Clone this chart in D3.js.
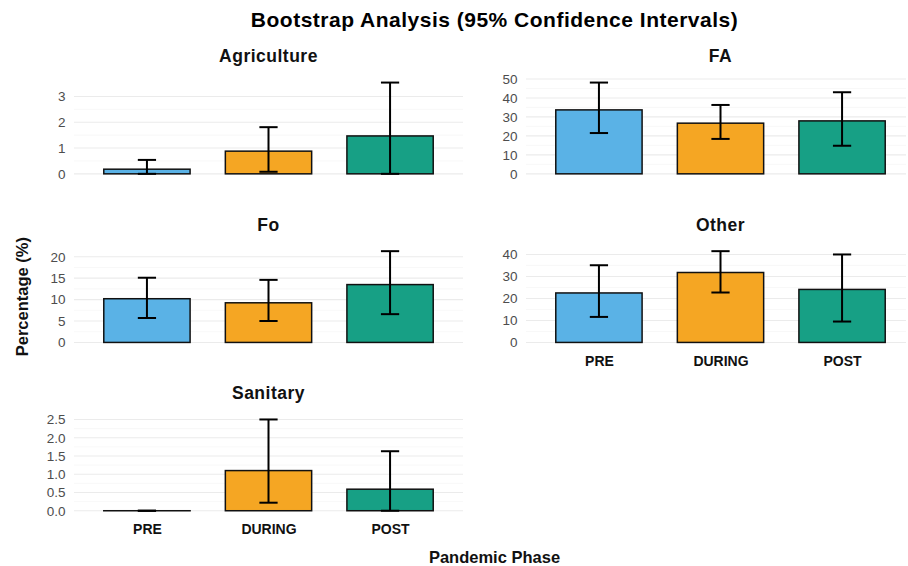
<!DOCTYPE html>
<html>
<head>
<meta charset="utf-8">
<script src="https://cdn.jsdelivr.net/npm/d3@7"></script>
<style>
  html, body { margin: 0; padding: 0; background: #ffffff; }
  svg { display: block; font-family: "Liberation Sans", Arial, Helvetica, sans-serif; }
</style>
</head>
<body>
<svg id="chart" width="908" height="566"></svg>
<script>
// ---- data ----
const phases = ["PRE", "DURING", "POST"];
const facets = ["Agriculture", "FA", "Fo", "Other", "Sanitary"];
const phaseColors = ["#5AB2E6", "#F5A623", "#17A085"];

const agricultureMean  = [0.18, 0.88, 1.47];
const agricultureLower = [0.00, 0.08, 0.00];
const agricultureUpper = [0.54, 1.81, 3.54];

const faMean  = [33.7, 26.7, 27.9];
const faLower = [21.5, 18.4, 14.8];
const faUpper = [48.1, 36.3, 43.0];

const foMean  = [10.2, 9.25, 13.5];
const foLower = [5.7, 5.0, 6.6];
const foUpper = [15.1, 14.6, 21.3];

const otherMean  = [22.5, 31.8, 24.1];
const otherLower = [11.6, 22.7, 9.5];
const otherUpper = [35.1, 41.5, 40.0];

const sanitaryMean  = [0.0, 1.10, 0.59];
const sanitaryLower = [0.0, 0.22, 0.00];
const sanitaryUpper = [0.0, 2.50, 1.63];

const agricultureTicks = [0, 1, 2, 3];
const faTicks = [0, 10, 20, 30, 40, 50];
const foTicks = [0, 5, 10, 15, 20];
const otherTicks = [0, 10, 20, 30, 40];
const sanitaryTicks = [0.0, 0.5, 1.0, 1.5, 2.0, 2.5];
const sanitaryTickLabels = ["0.0", "0.5", "1.0", "1.5", "2.0", "2.5"];

const chartTitle = "Bootstrap Analysis (95% Confidence Intervals)";
const xTitle = "Pandemic Phase";
const yTitle = "Percentage (%)";

// ---- assemble ----
const panels = [
  {name: facets[0], mean: agricultureMean, lower: agricultureLower, upper: agricultureUpper, ticks: agricultureTicks, fmt: d => String(d)},
  {name: facets[1], mean: faMean, lower: faLower, upper: faUpper, ticks: faTicks, fmt: d => String(d)},
  {name: facets[2], mean: foMean, lower: foLower, upper: foUpper, ticks: foTicks, fmt: d => String(d)},
  {name: facets[3], mean: otherMean, lower: otherLower, upper: otherUpper, ticks: otherTicks, fmt: d => String(d)},
  {name: facets[4], mean: sanitaryMean, lower: sanitaryLower, upper: sanitaryUpper, ticks: sanitaryTicks, fmt: (d, i) => sanitaryTickLabels[i]}
];

// ---- layout ----
const colX = [[74, 463], [526, 915]];
const rowTop = [78, 246.6, 414.9];
const panelH = 100.4;

const svg = d3.select("#chart");

svg.append("text")
  .attr("x", 494.5).attr("y", 27)
  .attr("text-anchor", "middle")
  .attr("font-size", 21).attr("font-weight", "bold")
  .attr("letter-spacing", 0.5)
  .attr("fill", "#000")
  .text(chartTitle);

panels.forEach((p, idx) => {
  const col = idx % 2, row = Math.floor(idx / 2);
  const [x0, x1] = colX[col];
  const top = rowTop[row], bottom = top + panelH;
  const maxV = d3.max(p.upper.concat(p.mean));
  const y = d3.scaleLinear().domain([-0.05 * maxV, 1.05 * maxV]).range([bottom, top]);
  const x = d3.scalePoint().domain(phases).range([x0, x1]).padding(0.6);
  const step = x.step();
  const barW = step * 0.71;
  const capW = step * 0.15;

  const g = svg.append("g");

  // gridlines (minor then major)
  const minor = d3.pairs(p.ticks).map(([a, b]) => (a + b) / 2);
  g.selectAll(".minor").data(minor).join("line")
    .attr("x1", x0).attr("x2", Math.min(x1, 906))
    .attr("y1", d => y(d)).attr("y2", d => y(d))
    .attr("stroke", "#f4f4f4").attr("stroke-width", 0.6);
  g.selectAll(".major").data(p.ticks).join("line")
    .attr("x1", x0).attr("x2", Math.min(x1, 906))
    .attr("y1", d => y(d)).attr("y2", d => y(d))
    .attr("stroke", "#ebebeb").attr("stroke-width", 1.1);

  // y axis labels
  const yAxis = d3.axisLeft(y).tickValues(p.ticks).tickSize(0).tickPadding(8.5)
    .tickFormat((d, i) => p.fmt(d, i));
  const ag = g.append("g").attr("transform", `translate(${x0},0)`).call(yAxis);
  ag.select(".domain").remove();
  ag.selectAll("text").attr("font-size", 13.5).attr("fill", "#4d4d4d")
    .attr("font-family", "Liberation Sans, Arial, sans-serif");

  // bars
  g.selectAll(".bar").data(phases).join("rect")
    .attr("x", d => x(d) - barW / 2)
    .attr("width", barW)
    .attr("y", (d, i) => y(p.mean[i]))
    .attr("height", (d, i) => Math.max(y(0) - y(p.mean[i]), 0.01))
    .attr("fill", (d, i) => phaseColors[i])
    .attr("stroke", "#111").attr("stroke-width", 1.5);

  // error bars
  const eb = g.selectAll(".eb").data(phases).join("g");
  eb.append("line")
    .attr("x1", d => x(d)).attr("x2", d => x(d))
    .attr("y1", (d, i) => y(p.lower[i])).attr("y2", (d, i) => y(p.upper[i]))
    .attr("stroke", "#000").attr("stroke-width", 2);
  eb.append("line")
    .attr("x1", d => x(d) - capW / 2).attr("x2", d => x(d) + capW / 2)
    .attr("y1", (d, i) => y(p.upper[i])).attr("y2", (d, i) => y(p.upper[i]))
    .attr("stroke", "#000").attr("stroke-width", 2);
  eb.append("line")
    .attr("x1", d => x(d) - capW / 2).attr("x2", d => x(d) + capW / 2)
    .attr("y1", (d, i) => y(p.lower[i])).attr("y2", (d, i) => y(p.lower[i]))
    .attr("stroke", "#000").attr("stroke-width", 2);

  // facet title
  g.append("text")
    .attr("x", (x0 + x1) / 2).attr("y", top - 16)
    .attr("text-anchor", "middle")
    .attr("font-size", 17.5).attr("font-weight", "bold")
    .attr("letter-spacing", 0.5)
    .attr("fill", "#111")
    .text(p.name);

  // x labels on bottom panel of each column
  const showX = (col === 0 && row === 2) || (col === 1 && row === 1);
  if (showX) {
    const xAxis = d3.axisBottom(x).tickSize(0).tickPadding(9);
    const xg = g.append("g").attr("transform", `translate(0,${bottom})`).call(xAxis);
    xg.select(".domain").remove();
    xg.selectAll("text").attr("font-size", 14).attr("font-weight", "bold")
      .attr("fill", "#111").attr("font-family", "Liberation Sans, Arial, sans-serif");
  }
});

// axis titles
svg.append("text")
  .attr("x", 494.5).attr("y", 563)
  .attr("text-anchor", "middle")
  .attr("font-size", 16.5).attr("font-weight", "bold")
  .attr("fill", "#111")
  .text(xTitle);

svg.append("text")
  .attr("transform", `translate(28,${(rowTop[0] + rowTop[2] + panelH) / 2}) rotate(-90)`)
  .attr("text-anchor", "middle")
  .attr("font-size", 16.5).attr("font-weight", "bold")
  .attr("fill", "#111")
  .text(yTitle);
</script>
</body>
</html>
